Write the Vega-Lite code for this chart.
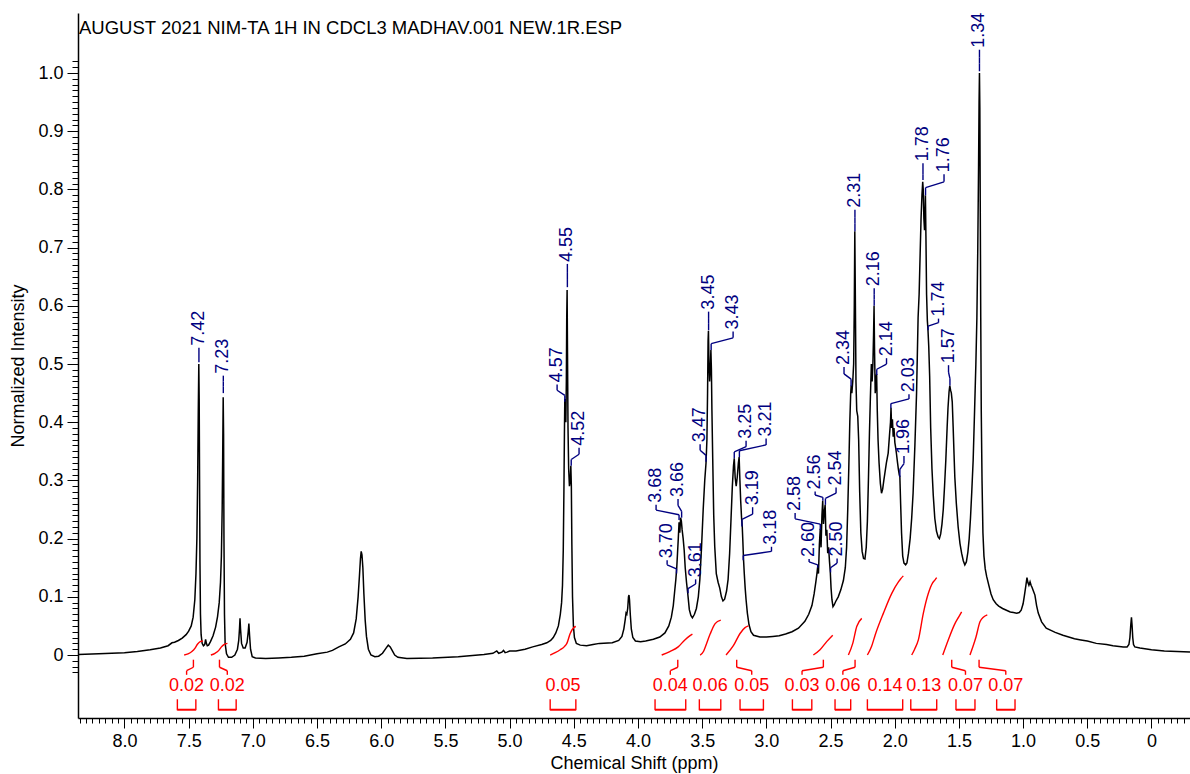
{
  "$schema": "https://vega.github.io/schema/vega-lite/v6.json",
  "width": 1112,
  "height": 705,
  "autosize": {"type": "none"},
  "padding": {"left": 78, "top": 13, "right": 0, "bottom": 56},
  "background": "white",
  "title": {
    "text": "AUGUST 2021 NIM-TA 1H IN CDCL3 MADHAV.001 NEW.1R.ESP",
    "anchor": "start",
    "frame": "group",
    "orient": "top",
    "offset": -40,
    "baseline": "alphabetic",
    "font": "Liberation Sans",
    "fontSize": 18.5,
    "fontWeight": "normal",
    "color": "black",
    "dx": 1
  },
  "config": {
    "view": {"stroke": null},
    "font": "Liberation Sans"
  },
  "datasets": {
    "spectrum": [
      {"ppm": 8.36, "intensity": 0.001}, {"ppm": 8.2, "intensity": 0.002}, {"ppm": 8.0, "intensity": 0.004},
      {"ppm": 7.9, "intensity": 0.006}, {"ppm": 7.8, "intensity": 0.009}, {"ppm": 7.72, "intensity": 0.012},
      {"ppm": 7.66, "intensity": 0.016}, {"ppm": 7.63, "intensity": 0.021}, {"ppm": 7.61, "intensity": 0.022},
      {"ppm": 7.58, "intensity": 0.025}, {"ppm": 7.55, "intensity": 0.029}, {"ppm": 7.52, "intensity": 0.035},
      {"ppm": 7.5, "intensity": 0.041}, {"ppm": 7.48, "intensity": 0.05}, {"ppm": 7.465, "intensity": 0.065},
      {"ppm": 7.452, "intensity": 0.095}, {"ppm": 7.443, "intensity": 0.14}, {"ppm": 7.436, "intensity": 0.2},
      {"ppm": 7.43, "intensity": 0.3}, {"ppm": 7.425, "intensity": 0.42}, {"ppm": 7.421, "intensity": 0.5},
      {"ppm": 7.418, "intensity": 0.44}, {"ppm": 7.415, "intensity": 0.3}, {"ppm": 7.412, "intensity": 0.16},
      {"ppm": 7.408, "intensity": 0.07}, {"ppm": 7.403, "intensity": 0.035}, {"ppm": 7.395, "intensity": 0.02},
      {"ppm": 7.385, "intensity": 0.016}, {"ppm": 7.375, "intensity": 0.018}, {"ppm": 7.368, "intensity": 0.027},
      {"ppm": 7.362, "intensity": 0.02}, {"ppm": 7.355, "intensity": 0.016}, {"ppm": 7.345, "intensity": 0.017},
      {"ppm": 7.33, "intensity": 0.023}, {"ppm": 7.31, "intensity": 0.033}, {"ppm": 7.29, "intensity": 0.048},
      {"ppm": 7.275, "intensity": 0.066}, {"ppm": 7.262, "intensity": 0.09}, {"ppm": 7.252, "intensity": 0.125},
      {"ppm": 7.245, "intensity": 0.17}, {"ppm": 7.239, "intensity": 0.25}, {"ppm": 7.235, "intensity": 0.34},
      {"ppm": 7.231, "intensity": 0.443}, {"ppm": 7.228, "intensity": 0.38}, {"ppm": 7.225, "intensity": 0.2},
      {"ppm": 7.221, "intensity": 0.07}, {"ppm": 7.216, "intensity": 0.02}, {"ppm": 7.205, "intensity": 0.002},
      {"ppm": 7.19, "intensity": -0.004}, {"ppm": 7.165, "intensity": -0.004}, {"ppm": 7.14, "intensity": 0.0},
      {"ppm": 7.12, "intensity": 0.01}, {"ppm": 7.11, "intensity": 0.025}, {"ppm": 7.104, "intensity": 0.045},
      {"ppm": 7.1, "intensity": 0.063}, {"ppm": 7.096, "intensity": 0.045}, {"ppm": 7.088, "intensity": 0.02},
      {"ppm": 7.075, "intensity": 0.012}, {"ppm": 7.06, "intensity": 0.012}, {"ppm": 7.045, "intensity": 0.022},
      {"ppm": 7.036, "intensity": 0.04}, {"ppm": 7.031, "intensity": 0.054}, {"ppm": 7.026, "intensity": 0.035},
      {"ppm": 7.018, "intensity": 0.01}, {"ppm": 7.005, "intensity": -0.003}, {"ppm": 6.98, "intensity": -0.005},
      {"ppm": 6.9, "intensity": -0.006}, {"ppm": 6.8, "intensity": -0.005}, {"ppm": 6.7, "intensity": -0.004},
      {"ppm": 6.6, "intensity": -0.002}, {"ppm": 6.5, "intensity": 0.002}, {"ppm": 6.42, "intensity": 0.005},
      {"ppm": 6.38, "intensity": 0.008}, {"ppm": 6.33, "intensity": 0.014}, {"ppm": 6.28, "intensity": 0.019},
      {"ppm": 6.24, "intensity": 0.027}, {"ppm": 6.215, "intensity": 0.038}, {"ppm": 6.195, "intensity": 0.062},
      {"ppm": 6.18, "intensity": 0.1}, {"ppm": 6.17, "intensity": 0.135}, {"ppm": 6.162, "intensity": 0.165},
      {"ppm": 6.156, "intensity": 0.178}, {"ppm": 6.15, "intensity": 0.172}, {"ppm": 6.143, "intensity": 0.15},
      {"ppm": 6.135, "intensity": 0.105}, {"ppm": 6.125, "intensity": 0.06}, {"ppm": 6.115, "intensity": 0.032},
      {"ppm": 6.1, "intensity": 0.01}, {"ppm": 6.08, "intensity": 0.0}, {"ppm": 6.05, "intensity": -0.003},
      {"ppm": 6.02, "intensity": -0.002}, {"ppm": 5.99, "intensity": 0.003}, {"ppm": 5.965, "intensity": 0.011},
      {"ppm": 5.945, "intensity": 0.017}, {"ppm": 5.93, "intensity": 0.014}, {"ppm": 5.915, "intensity": 0.008},
      {"ppm": 5.895, "intensity": 0.0}, {"ppm": 5.87, "intensity": -0.004}, {"ppm": 5.8, "intensity": -0.006},
      {"ppm": 5.6, "intensity": -0.005}, {"ppm": 5.4, "intensity": -0.003}, {"ppm": 5.2, "intensity": 0.001},
      {"ppm": 5.13, "intensity": 0.003}, {"ppm": 5.1, "intensity": 0.007}, {"ppm": 5.085, "intensity": 0.003},
      {"ppm": 5.06, "intensity": 0.005}, {"ppm": 5.047, "intensity": 0.008}, {"ppm": 5.035, "intensity": 0.004},
      {"ppm": 5.02, "intensity": 0.005}, {"ppm": 5.0, "intensity": 0.007}, {"ppm": 4.95, "intensity": 0.007},
      {"ppm": 4.88, "intensity": 0.01}, {"ppm": 4.82, "intensity": 0.014}, {"ppm": 4.75, "intensity": 0.018},
      {"ppm": 4.71, "intensity": 0.021}, {"ppm": 4.68, "intensity": 0.025}, {"ppm": 4.66, "intensity": 0.03},
      {"ppm": 4.64, "intensity": 0.038}, {"ppm": 4.62, "intensity": 0.05}, {"ppm": 4.605, "intensity": 0.07},
      {"ppm": 4.595, "intensity": 0.09}, {"ppm": 4.588, "intensity": 0.12}, {"ppm": 4.582, "intensity": 0.18},
      {"ppm": 4.577, "intensity": 0.28}, {"ppm": 4.573, "intensity": 0.38}, {"ppm": 4.57, "intensity": 0.44},
      {"ppm": 4.566, "intensity": 0.41}, {"ppm": 4.562, "intensity": 0.4}, {"ppm": 4.558, "intensity": 0.47},
      {"ppm": 4.555, "intensity": 0.58}, {"ppm": 4.552, "intensity": 0.627}, {"ppm": 4.549, "intensity": 0.52},
      {"ppm": 4.545, "intensity": 0.39}, {"ppm": 4.54, "intensity": 0.32}, {"ppm": 4.534, "intensity": 0.29},
      {"ppm": 4.528, "intensity": 0.3}, {"ppm": 4.523, "intensity": 0.325}, {"ppm": 4.519, "intensity": 0.29},
      {"ppm": 4.515, "intensity": 0.19}, {"ppm": 4.51, "intensity": 0.1}, {"ppm": 4.503, "intensity": 0.05},
      {"ppm": 4.495, "intensity": 0.03}, {"ppm": 4.48, "intensity": 0.02}, {"ppm": 4.45, "intensity": 0.017},
      {"ppm": 4.4, "intensity": 0.016}, {"ppm": 4.35, "intensity": 0.018}, {"ppm": 4.3, "intensity": 0.02},
      {"ppm": 4.2, "intensity": 0.021}, {"ppm": 4.15, "intensity": 0.025}, {"ppm": 4.125, "intensity": 0.032},
      {"ppm": 4.11, "intensity": 0.045}, {"ppm": 4.1, "intensity": 0.06}, {"ppm": 4.093, "intensity": 0.072},
      {"ppm": 4.087, "intensity": 0.07}, {"ppm": 4.08, "intensity": 0.08}, {"ppm": 4.074, "intensity": 0.1},
      {"ppm": 4.07, "intensity": 0.103}, {"ppm": 4.066, "intensity": 0.095}, {"ppm": 4.06, "intensity": 0.07},
      {"ppm": 4.052, "intensity": 0.045}, {"ppm": 4.04, "intensity": 0.03}, {"ppm": 4.02, "intensity": 0.024},
      {"ppm": 3.98, "intensity": 0.023}, {"ppm": 3.94, "intensity": 0.024}, {"ppm": 3.88, "intensity": 0.027},
      {"ppm": 3.83, "intensity": 0.031}, {"ppm": 3.79, "intensity": 0.038}, {"ppm": 3.76, "intensity": 0.05},
      {"ppm": 3.74, "intensity": 0.065}, {"ppm": 3.725, "intensity": 0.085}, {"ppm": 3.714, "intensity": 0.11},
      {"ppm": 3.705, "intensity": 0.13}, {"ppm": 3.698, "intensity": 0.15}, {"ppm": 3.692, "intensity": 0.175},
      {"ppm": 3.686, "intensity": 0.2}, {"ppm": 3.68, "intensity": 0.228}, {"ppm": 3.674, "intensity": 0.21},
      {"ppm": 3.668, "intensity": 0.236}, {"ppm": 3.662, "intensity": 0.23}, {"ppm": 3.656, "intensity": 0.215},
      {"ppm": 3.648, "intensity": 0.2}, {"ppm": 3.64, "intensity": 0.18}, {"ppm": 3.632, "intensity": 0.15},
      {"ppm": 3.622, "intensity": 0.125}, {"ppm": 3.612, "intensity": 0.105}, {"ppm": 3.6, "intensity": 0.078},
      {"ppm": 3.588, "intensity": 0.068}, {"ppm": 3.576, "intensity": 0.064}, {"ppm": 3.56, "intensity": 0.07},
      {"ppm": 3.545, "intensity": 0.08}, {"ppm": 3.53, "intensity": 0.1}, {"ppm": 3.518, "intensity": 0.13},
      {"ppm": 3.505, "intensity": 0.185}, {"ppm": 3.492, "intensity": 0.25}, {"ppm": 3.48, "intensity": 0.3},
      {"ppm": 3.47, "intensity": 0.33}, {"ppm": 3.463, "intensity": 0.37}, {"ppm": 3.458, "intensity": 0.45},
      {"ppm": 3.454, "intensity": 0.54}, {"ppm": 3.451, "intensity": 0.557}, {"ppm": 3.447, "intensity": 0.5},
      {"ppm": 3.442, "intensity": 0.47}, {"ppm": 3.437, "intensity": 0.49}, {"ppm": 3.432, "intensity": 0.524},
      {"ppm": 3.428, "intensity": 0.49}, {"ppm": 3.424, "intensity": 0.42}, {"ppm": 3.418, "intensity": 0.34},
      {"ppm": 3.41, "intensity": 0.24}, {"ppm": 3.402, "intensity": 0.186}, {"ppm": 3.39, "intensity": 0.14},
      {"ppm": 3.376, "intensity": 0.125}, {"ppm": 3.363, "intensity": 0.115}, {"ppm": 3.35, "intensity": 0.1},
      {"ppm": 3.338, "intensity": 0.093}, {"ppm": 3.325, "intensity": 0.096}, {"ppm": 3.31, "intensity": 0.11},
      {"ppm": 3.298, "intensity": 0.13}, {"ppm": 3.286, "intensity": 0.175}, {"ppm": 3.275, "intensity": 0.235},
      {"ppm": 3.265, "intensity": 0.29}, {"ppm": 3.256, "intensity": 0.325}, {"ppm": 3.25, "intensity": 0.338},
      {"ppm": 3.243, "intensity": 0.305}, {"ppm": 3.235, "intensity": 0.29}, {"ppm": 3.227, "intensity": 0.305},
      {"ppm": 3.218, "intensity": 0.33}, {"ppm": 3.212, "intensity": 0.34}, {"ppm": 3.206, "intensity": 0.3},
      {"ppm": 3.2, "intensity": 0.265}, {"ppm": 3.193, "intensity": 0.235}, {"ppm": 3.188, "intensity": 0.222},
      {"ppm": 3.183, "intensity": 0.195}, {"ppm": 3.178, "intensity": 0.165}, {"ppm": 3.172, "intensity": 0.14},
      {"ppm": 3.165, "intensity": 0.115}, {"ppm": 3.158, "intensity": 0.095}, {"ppm": 3.148, "intensity": 0.072},
      {"ppm": 3.135, "intensity": 0.052}, {"ppm": 3.12, "intensity": 0.04}, {"ppm": 3.1, "intensity": 0.034},
      {"ppm": 3.05, "intensity": 0.031}, {"ppm": 3.0, "intensity": 0.031}, {"ppm": 2.95, "intensity": 0.032},
      {"ppm": 2.9, "intensity": 0.033}, {"ppm": 2.85, "intensity": 0.036}, {"ppm": 2.8, "intensity": 0.04},
      {"ppm": 2.75, "intensity": 0.046}, {"ppm": 2.7, "intensity": 0.058}, {"ppm": 2.67, "intensity": 0.07},
      {"ppm": 2.645, "intensity": 0.085}, {"ppm": 2.628, "intensity": 0.105}, {"ppm": 2.615, "intensity": 0.125},
      {"ppm": 2.606, "intensity": 0.14}, {"ppm": 2.6, "intensity": 0.152}, {"ppm": 2.594, "intensity": 0.14},
      {"ppm": 2.587, "intensity": 0.19}, {"ppm": 2.58, "intensity": 0.217}, {"ppm": 2.574, "intensity": 0.185},
      {"ppm": 2.567, "intensity": 0.24}, {"ppm": 2.561, "intensity": 0.265}, {"ppm": 2.555, "intensity": 0.225},
      {"ppm": 2.549, "intensity": 0.245}, {"ppm": 2.542, "intensity": 0.258}, {"ppm": 2.536, "intensity": 0.205},
      {"ppm": 2.529, "intensity": 0.215}, {"ppm": 2.522, "intensity": 0.175}, {"ppm": 2.515, "intensity": 0.185},
      {"ppm": 2.508, "intensity": 0.16}, {"ppm": 2.502, "intensity": 0.143}, {"ppm": 2.496, "intensity": 0.115},
      {"ppm": 2.489, "intensity": 0.095}, {"ppm": 2.481, "intensity": 0.083}, {"ppm": 2.472, "intensity": 0.086},
      {"ppm": 2.46, "intensity": 0.092}, {"ppm": 2.44, "intensity": 0.1}, {"ppm": 2.42, "intensity": 0.112},
      {"ppm": 2.4, "intensity": 0.128}, {"ppm": 2.385, "intensity": 0.15}, {"ppm": 2.375, "intensity": 0.185},
      {"ppm": 2.366, "intensity": 0.25}, {"ppm": 2.358, "intensity": 0.32}, {"ppm": 2.35, "intensity": 0.4},
      {"ppm": 2.343, "intensity": 0.45}, {"ppm": 2.339, "intensity": 0.463}, {"ppm": 2.334, "intensity": 0.45},
      {"ppm": 2.327, "intensity": 0.47}, {"ppm": 2.32, "intensity": 0.5}, {"ppm": 2.315, "intensity": 0.6},
      {"ppm": 2.311, "intensity": 0.728}, {"ppm": 2.307, "intensity": 0.62}, {"ppm": 2.302, "intensity": 0.47},
      {"ppm": 2.296, "intensity": 0.42}, {"ppm": 2.288, "intensity": 0.41}, {"ppm": 2.281, "intensity": 0.37},
      {"ppm": 2.273, "intensity": 0.28}, {"ppm": 2.264, "intensity": 0.21}, {"ppm": 2.254, "intensity": 0.178},
      {"ppm": 2.243, "intensity": 0.166}, {"ppm": 2.232, "intensity": 0.165}, {"ppm": 2.222, "intensity": 0.185},
      {"ppm": 2.213, "intensity": 0.23}, {"ppm": 2.205, "intensity": 0.3}, {"ppm": 2.197, "intensity": 0.38},
      {"ppm": 2.19, "intensity": 0.44}, {"ppm": 2.182, "intensity": 0.5}, {"ppm": 2.176, "intensity": 0.47},
      {"ppm": 2.17, "intensity": 0.5}, {"ppm": 2.165, "intensity": 0.55}, {"ppm": 2.161, "intensity": 0.6},
      {"ppm": 2.157, "intensity": 0.52}, {"ppm": 2.152, "intensity": 0.45}, {"ppm": 2.146, "intensity": 0.47},
      {"ppm": 2.141, "intensity": 0.483}, {"ppm": 2.136, "intensity": 0.42}, {"ppm": 2.13, "intensity": 0.37},
      {"ppm": 2.122, "intensity": 0.33}, {"ppm": 2.112, "intensity": 0.295}, {"ppm": 2.103, "intensity": 0.278},
      {"ppm": 2.094, "intensity": 0.285}, {"ppm": 2.085, "intensity": 0.3}, {"ppm": 2.077, "intensity": 0.312},
      {"ppm": 2.065, "intensity": 0.33}, {"ppm": 2.051, "intensity": 0.347}, {"ppm": 2.04, "intensity": 0.38},
      {"ppm": 2.033, "intensity": 0.4}, {"ppm": 2.029, "intensity": 0.425}, {"ppm": 2.024, "intensity": 0.39},
      {"ppm": 2.018, "intensity": 0.405}, {"ppm": 2.012, "intensity": 0.375}, {"ppm": 2.006, "intensity": 0.39},
      {"ppm": 1.999, "intensity": 0.365}, {"ppm": 1.992, "intensity": 0.355}, {"ppm": 1.986, "intensity": 0.345},
      {"ppm": 1.978, "intensity": 0.33}, {"ppm": 1.972, "intensity": 0.32}, {"ppm": 1.965, "intensity": 0.31},
      {"ppm": 1.96, "intensity": 0.306}, {"ppm": 1.954, "intensity": 0.26}, {"ppm": 1.947, "intensity": 0.21},
      {"ppm": 1.938, "intensity": 0.17}, {"ppm": 1.928, "intensity": 0.158}, {"ppm": 1.915, "intensity": 0.155},
      {"ppm": 1.905, "intensity": 0.158}, {"ppm": 1.893, "intensity": 0.175}, {"ppm": 1.88, "intensity": 0.2},
      {"ppm": 1.868, "intensity": 0.235}, {"ppm": 1.857, "intensity": 0.278}, {"ppm": 1.843, "intensity": 0.36},
      {"ppm": 1.83, "intensity": 0.45}, {"ppm": 1.818, "intensity": 0.58}, {"ppm": 1.81, "intensity": 0.62},
      {"ppm": 1.802, "intensity": 0.69}, {"ppm": 1.795, "intensity": 0.75}, {"ppm": 1.788, "intensity": 0.79},
      {"ppm": 1.782, "intensity": 0.813}, {"ppm": 1.778, "intensity": 0.8}, {"ppm": 1.773, "intensity": 0.75},
      {"ppm": 1.768, "intensity": 0.73}, {"ppm": 1.764, "intensity": 0.76}, {"ppm": 1.761, "intensity": 0.79},
      {"ppm": 1.757, "intensity": 0.72}, {"ppm": 1.752, "intensity": 0.62}, {"ppm": 1.746, "intensity": 0.575},
      {"ppm": 1.741, "intensity": 0.558}, {"ppm": 1.735, "intensity": 0.53}, {"ppm": 1.728, "intensity": 0.48},
      {"ppm": 1.72, "intensity": 0.39}, {"ppm": 1.71, "intensity": 0.32}, {"ppm": 1.7, "intensity": 0.275},
      {"ppm": 1.688, "intensity": 0.235}, {"ppm": 1.675, "intensity": 0.213}, {"ppm": 1.662, "intensity": 0.203},
      {"ppm": 1.652, "intensity": 0.2}, {"ppm": 1.642, "intensity": 0.208}, {"ppm": 1.632, "intensity": 0.225},
      {"ppm": 1.622, "intensity": 0.25}, {"ppm": 1.612, "intensity": 0.29}, {"ppm": 1.602, "intensity": 0.335},
      {"ppm": 1.592, "intensity": 0.39}, {"ppm": 1.585, "intensity": 0.425}, {"ppm": 1.577, "intensity": 0.452},
      {"ppm": 1.571, "intensity": 0.463}, {"ppm": 1.565, "intensity": 0.455}, {"ppm": 1.559, "intensity": 0.45},
      {"ppm": 1.552, "intensity": 0.435}, {"ppm": 1.545, "intensity": 0.392}, {"ppm": 1.538, "intensity": 0.345},
      {"ppm": 1.532, "intensity": 0.306}, {"ppm": 1.52, "intensity": 0.26}, {"ppm": 1.506, "intensity": 0.22},
      {"ppm": 1.492, "intensity": 0.192}, {"ppm": 1.479, "intensity": 0.175}, {"ppm": 1.466, "intensity": 0.162},
      {"ppm": 1.454, "intensity": 0.155}, {"ppm": 1.442, "intensity": 0.16}, {"ppm": 1.43, "intensity": 0.177},
      {"ppm": 1.42, "intensity": 0.2}, {"ppm": 1.41, "intensity": 0.235}, {"ppm": 1.4, "intensity": 0.28},
      {"ppm": 1.389, "intensity": 0.335}, {"ppm": 1.378, "intensity": 0.42}, {"ppm": 1.368, "intensity": 0.5},
      {"ppm": 1.36, "intensity": 0.58}, {"ppm": 1.353, "intensity": 0.7}, {"ppm": 1.347, "intensity": 0.84},
      {"ppm": 1.343, "intensity": 0.95}, {"ppm": 1.34, "intensity": 1.0}, {"ppm": 1.337, "intensity": 0.94},
      {"ppm": 1.334, "intensity": 0.78}, {"ppm": 1.33, "intensity": 0.58}, {"ppm": 1.326, "intensity": 0.42},
      {"ppm": 1.32, "intensity": 0.3}, {"ppm": 1.313, "intensity": 0.21}, {"ppm": 1.305, "intensity": 0.17},
      {"ppm": 1.295, "intensity": 0.148}, {"ppm": 1.284, "intensity": 0.135}, {"ppm": 1.265, "intensity": 0.118},
      {"ppm": 1.25, "intensity": 0.105}, {"ppm": 1.233, "intensity": 0.095}, {"ppm": 1.21, "intensity": 0.088},
      {"ppm": 1.19, "intensity": 0.084}, {"ppm": 1.16, "intensity": 0.08}, {"ppm": 1.13, "intensity": 0.077},
      {"ppm": 1.1, "intensity": 0.074}, {"ppm": 1.075, "intensity": 0.073}, {"ppm": 1.05, "intensity": 0.072},
      {"ppm": 1.03, "intensity": 0.073}, {"ppm": 1.015, "intensity": 0.077}, {"ppm": 1.0, "intensity": 0.088},
      {"ppm": 0.99, "intensity": 0.102}, {"ppm": 0.978, "intensity": 0.12}, {"ppm": 0.97, "intensity": 0.133},
      {"ppm": 0.962, "intensity": 0.124}, {"ppm": 0.955, "intensity": 0.12}, {"ppm": 0.946, "intensity": 0.126},
      {"ppm": 0.938, "intensity": 0.12}, {"ppm": 0.93, "intensity": 0.116}, {"ppm": 0.92, "intensity": 0.11},
      {"ppm": 0.908, "intensity": 0.103}, {"ppm": 0.895, "intensity": 0.085}, {"ppm": 0.882, "intensity": 0.072},
      {"ppm": 0.856, "intensity": 0.057}, {"ppm": 0.82, "intensity": 0.046}, {"ppm": 0.75, "intensity": 0.039},
      {"ppm": 0.69, "intensity": 0.034}, {"ppm": 0.6, "intensity": 0.028}, {"ppm": 0.55, "intensity": 0.026},
      {"ppm": 0.5, "intensity": 0.024}, {"ppm": 0.43, "intensity": 0.02}, {"ppm": 0.35, "intensity": 0.018},
      {"ppm": 0.3, "intensity": 0.016}, {"ppm": 0.22, "intensity": 0.014}, {"ppm": 0.19, "intensity": 0.014},
      {"ppm": 0.176, "intensity": 0.018}, {"ppm": 0.168, "intensity": 0.03}, {"ppm": 0.162, "intensity": 0.05},
      {"ppm": 0.156, "intensity": 0.065}, {"ppm": 0.151, "intensity": 0.05}, {"ppm": 0.146, "intensity": 0.03},
      {"ppm": 0.14, "intensity": 0.018}, {"ppm": 0.13, "intensity": 0.014}, {"ppm": 0.09, "intensity": 0.012},
      {"ppm": 0.0, "intensity": 0.009}, {"ppm": -0.1, "intensity": 0.007}, {"ppm": -0.2, "intensity": 0.006},
      {"ppm": -0.3, "intensity": 0.005}
    ],
    "integralCurves": [
      {"id": 1, "ppm": 7.535, "v": 0}, {"id": 1, "ppm": 7.505, "v": 0.002}, {"id": 1, "ppm": 7.475, "v": 0.006},
      {"id": 1, "ppm": 7.45, "v": 0.012}, {"id": 1, "ppm": 7.43, "v": 0.019}, {"id": 1, "ppm": 7.41, "v": 0.023},
      {"id": 1, "ppm": 7.389, "v": 0.024},
      {"id": 2, "ppm": 7.327, "v": 0}, {"id": 2, "ppm": 7.295, "v": 0.003}, {"id": 2, "ppm": 7.265, "v": 0.008},
      {"id": 2, "ppm": 7.245, "v": 0.014}, {"id": 2, "ppm": 7.225, "v": 0.018}, {"id": 2, "ppm": 7.198, "v": 0.02},
      {"id": 3, "ppm": 4.684, "v": 0}, {"id": 3, "ppm": 4.645, "v": 0.004}, {"id": 3, "ppm": 4.606, "v": 0.009},
      {"id": 3, "ppm": 4.575, "v": 0.014}, {"id": 3, "ppm": 4.554, "v": 0.02}, {"id": 3, "ppm": 4.528, "v": 0.037},
      {"id": 3, "ppm": 4.502, "v": 0.047}, {"id": 3, "ppm": 4.484, "v": 0.049},
      {"id": 4, "ppm": 3.815, "v": 0}, {"id": 4, "ppm": 3.752, "v": 0.006}, {"id": 4, "ppm": 3.687, "v": 0.014},
      {"id": 4, "ppm": 3.635, "v": 0.026}, {"id": 4, "ppm": 3.597, "v": 0.033}, {"id": 4, "ppm": 3.576, "v": 0.036},
      {"id": 5, "ppm": 3.516, "v": 0}, {"id": 5, "ppm": 3.49, "v": 0.006}, {"id": 5, "ppm": 3.477, "v": 0.013},
      {"id": 5, "ppm": 3.438, "v": 0.036}, {"id": 5, "ppm": 3.399, "v": 0.054}, {"id": 5, "ppm": 3.355, "v": 0.06},
      {"id": 6, "ppm": 3.314, "v": 0}, {"id": 6, "ppm": 3.257, "v": 0.016}, {"id": 6, "ppm": 3.205, "v": 0.037},
      {"id": 6, "ppm": 3.166, "v": 0.047}, {"id": 6, "ppm": 3.14, "v": 0.05},
      {"id": 7, "ppm": 2.634, "v": 0}, {"id": 7, "ppm": 2.582, "v": 0.009}, {"id": 7, "ppm": 2.53, "v": 0.023},
      {"id": 7, "ppm": 2.483, "v": 0.034},
      {"id": 8, "ppm": 2.361, "v": 0}, {"id": 8, "ppm": 2.327, "v": 0.02}, {"id": 8, "ppm": 2.296, "v": 0.049},
      {"id": 8, "ppm": 2.257, "v": 0.063},
      {"id": 9, "ppm": 2.213, "v": 0}, {"id": 9, "ppm": 2.18, "v": 0.015}, {"id": 9, "ppm": 2.153, "v": 0.034},
      {"id": 9, "ppm": 2.088, "v": 0.072}, {"id": 9, "ppm": 2.023, "v": 0.106}, {"id": 9, "ppm": 1.97, "v": 0.126},
      {"id": 9, "ppm": 1.953, "v": 0.131}, {"id": 9, "ppm": 1.933, "v": 0.136},
      {"id": 10, "ppm": 1.868, "v": 0}, {"id": 10, "ppm": 1.845, "v": 0.01}, {"id": 10, "ppm": 1.816, "v": 0.026},
      {"id": 10, "ppm": 1.777, "v": 0.072}, {"id": 10, "ppm": 1.738, "v": 0.106}, {"id": 10, "ppm": 1.705, "v": 0.124},
      {"id": 10, "ppm": 1.686, "v": 0.129}, {"id": 10, "ppm": 1.673, "v": 0.133},
      {"id": 11, "ppm": 1.626, "v": 0}, {"id": 11, "ppm": 1.583, "v": 0.026}, {"id": 11, "ppm": 1.531, "v": 0.054},
      {"id": 11, "ppm": 1.5, "v": 0.066}, {"id": 11, "ppm": 1.479, "v": 0.074},
      {"id": 12, "ppm": 1.414, "v": 0}, {"id": 12, "ppm": 1.39, "v": 0.015}, {"id": 12, "ppm": 1.367, "v": 0.031},
      {"id": 12, "ppm": 1.336, "v": 0.057}, {"id": 12, "ppm": 1.31, "v": 0.065}, {"id": 12, "ppm": 1.279, "v": 0.069}
    ],
    "integrals": [
      {"id": 1, "value": 0.024, "lo": 7.588, "hi": 7.444, "mid": 7.516, "lead": 7.463},
      {"id": 2, "value": 0.02, "lo": 7.268, "hi": 7.13, "mid": 7.199, "lead": 7.26},
      {"id": 3, "value": 0.049, "lo": 4.684, "hi": 4.484, "mid": 4.584, "lead": null},
      {"id": 4, "value": 0.036, "lo": 3.867, "hi": 3.628, "mid": 3.748, "lead": 3.69},
      {"id": 5, "value": 0.06, "lo": 3.522, "hi": 3.355, "mid": 3.438, "lead": null},
      {"id": 6, "value": 0.05, "lo": 3.205, "hi": 3.023, "mid": 3.114, "lead": 3.231},
      {"id": 7, "value": 0.034, "lo": 2.797, "hi": 2.646, "mid": 2.722, "lead": 2.556},
      {"id": 8, "value": 0.063, "lo": 2.465, "hi": 2.343, "mid": 2.404, "lead": 2.309},
      {"id": 9, "value": 0.136, "lo": 2.213, "hi": 1.938, "mid": 2.076, "lead": null},
      {"id": 10, "value": 0.133, "lo": 1.875, "hi": 1.673, "mid": 1.774, "lead": null},
      {"id": 11, "value": 0.074, "lo": 1.523, "hi": 1.375, "mid": 1.449, "lead": 1.556},
      {"id": 12, "value": 0.069, "lo": 1.206, "hi": 1.063, "mid": 1.135, "lead": 1.343}
    ],
    "peaks": [
      {"shift": 7.42, "y0": 0.503, "y1": 0.512, "tx": 7.42, "y2": 0.519, "y3": 0.528},
      {"shift": 7.23, "y0": 0.45, "y1": 0.461, "tx": 7.23, "y2": 0.47, "y3": 0.48},
      {"shift": 4.57, "y0": 0.435, "y1": 0.446, "tx": 4.63, "y2": 0.455, "y3": 0.465},
      {"shift": 4.55, "y0": 0.632, "y1": 0.646, "tx": 4.55, "y2": 0.658, "y3": 0.672},
      {"shift": 4.52, "y0": 0.325, "y1": 0.336, "tx": 4.459, "y2": 0.345, "y3": 0.356},
      {"shift": 3.7, "y0": 0.14, "y1": 0.148, "tx": 3.773, "y2": 0.155, "y3": 0.163},
      {"shift": 3.68, "y0": 0.232, "y1": 0.241, "tx": 3.859, "y2": 0.249, "y3": 0.258},
      {"shift": 3.66, "y0": 0.236, "y1": 0.247, "tx": 3.688, "y2": 0.257, "y3": 0.268},
      {"shift": 3.61, "y0": 0.106, "y1": 0.114, "tx": 3.551, "y2": 0.122, "y3": 0.13},
      {"shift": 3.47, "y0": 0.332, "y1": 0.343, "tx": 3.516, "y2": 0.352, "y3": 0.362},
      {"shift": 3.45, "y0": 0.558, "y1": 0.569, "tx": 3.45, "y2": 0.579, "y3": 0.59},
      {"shift": 3.43, "y0": 0.524, "y1": 0.535, "tx": 3.259, "y2": 0.545, "y3": 0.556},
      {"shift": 3.25, "y0": 0.338, "y1": 0.349, "tx": 3.158, "y2": 0.358, "y3": 0.368},
      {"shift": 3.21, "y0": 0.34, "y1": 0.351, "tx": 3.002, "y2": 0.361, "y3": 0.372},
      {"shift": 3.19, "y0": 0.221, "y1": 0.233, "tx": 3.107, "y2": 0.242, "y3": 0.254},
      {"shift": 3.18, "y0": 0.163, "y1": 0.171, "tx": 2.96, "y2": 0.178, "y3": 0.186},
      {"shift": 2.6, "y0": 0.15, "y1": 0.155, "tx": 2.667, "y2": 0.16, "y3": 0.165},
      {"shift": 2.58, "y0": 0.215, "y1": 0.225, "tx": 2.776, "y2": 0.234, "y3": 0.244},
      {"shift": 2.56, "y0": 0.265, "y1": 0.271, "tx": 2.62, "y2": 0.275, "y3": 0.281},
      {"shift": 2.54, "y0": 0.258, "y1": 0.269, "tx": 2.457, "y2": 0.278, "y3": 0.288},
      {"shift": 2.5, "y0": 0.142, "y1": 0.15, "tx": 2.449, "y2": 0.158, "y3": 0.166},
      {"shift": 2.34, "y0": 0.462, "y1": 0.474, "tx": 2.395, "y2": 0.483, "y3": 0.495},
      {"shift": 2.31, "y0": 0.728, "y1": 0.741, "tx": 2.31, "y2": 0.752, "y3": 0.765},
      {"shift": 2.16, "y0": 0.6, "y1": 0.611, "tx": 2.16, "y2": 0.62, "y3": 0.63},
      {"shift": 2.14, "y0": 0.481, "y1": 0.491, "tx": 2.064, "y2": 0.5, "y3": 0.51},
      {"shift": 2.03, "y0": 0.424, "y1": 0.432, "tx": 1.889, "y2": 0.44, "y3": 0.448},
      {"shift": 1.96, "y0": 0.306, "y1": 0.319, "tx": 1.928, "y2": 0.329, "y3": 0.342},
      {"shift": 1.78, "y0": 0.816, "y1": 0.826, "tx": 1.78, "y2": 0.835, "y3": 0.845},
      {"shift": 1.76, "y0": 0.79, "y1": 0.803, "tx": 1.616, "y2": 0.813, "y3": 0.826},
      {"shift": 1.74, "y0": 0.558, "y1": 0.565, "tx": 1.659, "y2": 0.571, "y3": 0.578},
      {"shift": 1.57, "y0": 0.463, "y1": 0.475, "tx": 1.581, "y2": 0.486, "y3": 0.498},
      {"shift": 1.34, "y0": 1.003, "y1": 1.016, "tx": 1.34, "y2": 1.027, "y3": 1.04}
    ]
  },
  "layer": [
    {
      "data": {"name": "spectrum"},
      "mark": {"type": "line", "color": "black", "strokeWidth": 1.5, "clip": true},
      "encoding": {
        "x": {
          "field": "ppm",
          "type": "quantitative",
          "scale": {"domain": [-0.3, 8.362], "reverse": true, "nice": false, "zero": false},
          "axis": {
            "title": "Chemical Shift (ppm)",
            "titleFont": "Liberation Sans",
            "titleFontSize": 18,
            "titleFontWeight": "normal",
            "titleColor": "black",
            "titlePadding": 4,
            "grid": false,
            "domainColor": "black",
            "domainWidth": 1.5,
            "tickColor": "black",
            "tickWidth": 1,
            "tickCount": 1000,
            "tickSize": {"condition": {"test": "abs(datum.value*2-round(datum.value*2))<1e-6", "value": 10}, "value": 5},
            "values": [8.35, 8.3, 8.25, 8.2, 8.15, 8.1, 8.05, 8, 7.95, 7.9, 7.85, 7.8, 7.75, 7.7, 7.65, 7.6, 7.55, 7.5, 7.45, 7.4, 7.35, 7.3, 7.25, 7.2, 7.15, 7.1, 7.05, 7, 6.95, 6.9, 6.85, 6.8, 6.75, 6.7, 6.65, 6.6, 6.55, 6.5, 6.45, 6.4, 6.35, 6.3, 6.25, 6.2, 6.15, 6.1, 6.05, 6, 5.95, 5.9, 5.85, 5.8, 5.75, 5.7, 5.65, 5.6, 5.55, 5.5, 5.45, 5.4, 5.35, 5.3, 5.25, 5.2, 5.15, 5.1, 5.05, 5, 4.95, 4.9, 4.85, 4.8, 4.75, 4.7, 4.65, 4.6, 4.55, 4.5, 4.45, 4.4, 4.35, 4.3, 4.25, 4.2, 4.15, 4.1, 4.05, 4, 3.95, 3.9, 3.85, 3.8, 3.75, 3.7, 3.65, 3.6, 3.55, 3.5, 3.45, 3.4, 3.35, 3.3, 3.25, 3.2, 3.15, 3.1, 3.05, 3, 2.95, 2.9, 2.85, 2.8, 2.75, 2.7, 2.65, 2.6, 2.55, 2.5, 2.45, 2.4, 2.35, 2.3, 2.25, 2.2, 2.15, 2.1, 2.05, 2, 1.95, 1.9, 1.85, 1.8, 1.75, 1.7, 1.65, 1.6, 1.55, 1.5, 1.45, 1.4, 1.35, 1.3, 1.25, 1.2, 1.15, 1.1, 1.05, 1, 0.95, 0.9, 0.85, 0.8, 0.75, 0.7, 0.65, 0.6, 0.55, 0.5, 0.45, 0.4, 0.35, 0.3, 0.25, 0.2, 0.15, 0.1, 0.05, 0, -0.05, -0.1, -0.15, -0.2, -0.25],
            "labelExpr": "abs(datum.value*2-round(datum.value*2))<1e-6 ? (abs(datum.value)<1e-6 ? '0' : format(datum.value,'.1f')) : ''",
            "labelFont": "Liberation Sans",
            "labelFontSize": 18,
            "labelColor": "black",
            "labelPadding": 4,
            "labelOverlap": false,
            "labelFlush": false
          }
        },
        "y": {
          "field": "intensity",
          "type": "quantitative",
          "scale": {"domain": [-0.1082, 1.1031], "nice": false, "zero": false},
          "axis": {
            "title": "Normalized Intensity",
            "titleFont": "Liberation Sans",
            "titleFontSize": 18,
            "titleFontWeight": "normal",
            "titleColor": "black",
            "titlePadding": 10,
            "grid": false,
            "domainColor": "black",
            "domainWidth": 1.5,
            "tickColor": "black",
            "tickWidth": 1,
            "tickCount": 1000,
            "tickSize": {"condition": {"test": "abs(datum.value*10-round(datum.value*10))<1e-6", "value": 11}, "value": 6},
            "values": [-0.03, -0.02, -0.01, 0, 0.01, 0.02, 0.03, 0.04, 0.05, 0.06, 0.07, 0.08, 0.09, 0.1, 0.11, 0.12, 0.13, 0.14, 0.15, 0.16, 0.17, 0.18, 0.19, 0.2, 0.21, 0.22, 0.23, 0.24, 0.25, 0.26, 0.27, 0.28, 0.29, 0.3, 0.31, 0.32, 0.33, 0.34, 0.35, 0.36, 0.37, 0.38, 0.39, 0.4, 0.41, 0.42, 0.43, 0.44, 0.45, 0.46, 0.47, 0.48, 0.49, 0.5, 0.51, 0.52, 0.53, 0.54, 0.55, 0.56, 0.57, 0.58, 0.59, 0.6, 0.61, 0.62, 0.63, 0.64, 0.65, 0.66, 0.67, 0.68, 0.69, 0.7, 0.71, 0.72, 0.73, 0.74, 0.75, 0.76, 0.77, 0.78, 0.79, 0.8, 0.81, 0.82, 0.83, 0.84, 0.85, 0.86, 0.87, 0.88, 0.89, 0.9, 0.91, 0.92, 0.93, 0.94, 0.95, 0.96, 0.97, 0.98, 0.99, 1, 1.01, 1.02],
            "labelExpr": "(abs(datum.value*10-round(datum.value*10))<1e-6 && datum.value>-0.001) ? (abs(datum.value)<1e-6 ? '0' : format(datum.value,'.1f')) : ''",
            "labelFont": "Liberation Sans",
            "labelFontSize": 18,
            "labelColor": "black",
            "labelPadding": 4,
            "labelOverlap": false,
            "labelFlush": false
          }
        }
      }
    },
    {
      "data": {"name": "integralCurves"},
      "mark": {"type": "line", "color": "#ff0000", "strokeWidth": 1.4, "interpolate": "monotone"},
      "encoding": {
        "x": {"field": "ppm", "type": "quantitative"},
        "y": {"field": "v", "type": "quantitative"},
        "detail": {"field": "id", "type": "nominal"}
      }
    },
    {
      "data": {"name": "integrals"},
      "transform": [{"filter": "isValid(datum.lead)"}],
      "mark": {"type": "rule", "color": "#ff0000", "strokeWidth": 1.4},
      "encoding": {
        "x": {"field": "lead", "type": "quantitative"},
        "y": {"datum": -0.008},
        "y2": {"datum": -0.021}
      }
    },
    {
      "data": {"name": "integrals"},
      "transform": [{"filter": "isValid(datum.lead)"}],
      "mark": {"type": "rule", "color": "#ff0000", "strokeWidth": 1.4},
      "encoding": {
        "x": {"field": "lead", "type": "quantitative"},
        "x2": {"field": "mid"},
        "y": {"datum": -0.021},
        "y2": {"datum": -0.027}
      }
    },
    {
      "data": {"name": "integrals"},
      "transform": [{"filter": "isValid(datum.lead)"}],
      "mark": {"type": "rule", "color": "#ff0000", "strokeWidth": 1.4},
      "encoding": {
        "x": {"field": "mid", "type": "quantitative"},
        "y": {"datum": -0.027},
        "y2": {"datum": -0.034}
      }
    },
    {
      "data": {"name": "integrals"},
      "mark": {"type": "text", "color": "#ff0000", "fontSize": 18, "font": "Liberation Sans", "align": "center", "baseline": "middle"},
      "encoding": {
        "x": {"field": "mid", "type": "quantitative"},
        "y": {"datum": -0.054},
        "text": {"field": "value", "type": "quantitative", "format": ".2f"}
      }
    },
    {
      "data": {"name": "integrals"},
      "mark": {"type": "rule", "color": "#ff0000", "strokeWidth": 2},
      "encoding": {
        "x": {"field": "lo", "type": "quantitative"},
        "x2": {"field": "hi"},
        "y": {"datum": -0.094}
      }
    },
    {
      "data": {"name": "integrals"},
      "mark": {"type": "rule", "color": "#ff0000", "strokeWidth": 1.4},
      "encoding": {
        "x": {"field": "lo", "type": "quantitative"},
        "y": {"datum": -0.076},
        "y2": {"datum": -0.095}
      }
    },
    {
      "data": {"name": "integrals"},
      "mark": {"type": "rule", "color": "#ff0000", "strokeWidth": 1.4},
      "encoding": {
        "x": {"field": "hi", "type": "quantitative"},
        "y": {"datum": -0.076},
        "y2": {"datum": -0.095}
      }
    },
    {
      "data": {"name": "peaks"},
      "mark": {"type": "rule", "color": "#000080", "strokeWidth": 1.4},
      "encoding": {
        "x": {"field": "shift", "type": "quantitative"},
        "y": {"field": "y0", "type": "quantitative"},
        "y2": {"field": "y1"}
      }
    },
    {
      "data": {"name": "peaks"},
      "mark": {"type": "rule", "color": "#000080", "strokeWidth": 1.4},
      "encoding": {
        "x": {"field": "shift", "type": "quantitative"},
        "x2": {"field": "tx"},
        "y": {"field": "y1", "type": "quantitative"},
        "y2": {"field": "y2"}
      }
    },
    {
      "data": {"name": "peaks"},
      "mark": {"type": "rule", "color": "#000080", "strokeWidth": 1.4},
      "encoding": {
        "x": {"field": "tx", "type": "quantitative"},
        "y": {"field": "y2", "type": "quantitative"},
        "y2": {"field": "y3"}
      }
    },
    {
      "data": {"name": "peaks"},
      "mark": {"type": "text", "color": "#000080", "fontSize": 18, "font": "Liberation Sans", "angle": 270, "align": "left", "baseline": "middle", "dx": 2},
      "encoding": {
        "x": {"field": "tx", "type": "quantitative"},
        "y": {"field": "y3", "type": "quantitative"},
        "text": {"field": "shift", "type": "quantitative", "format": ".2f"}
      }
    }
  ]
}
